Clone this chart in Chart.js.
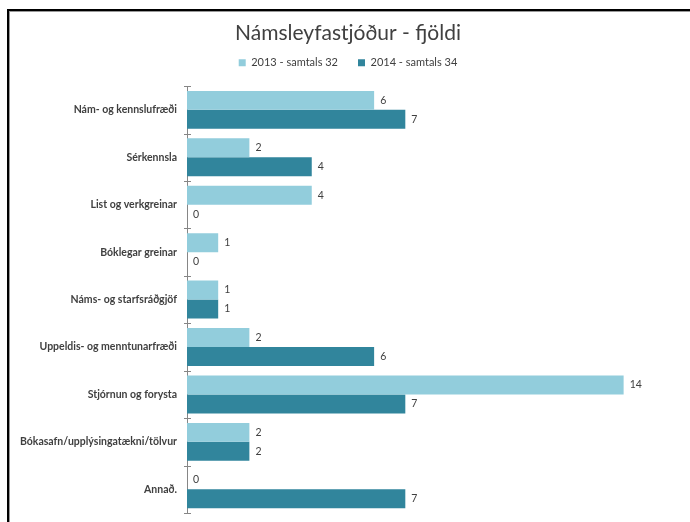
<!DOCTYPE html>
<html lang="is">
<head>
    <meta charset="UTF-8">
    <title>Námsleyfastjóður - fjöldi</title>
    <script src="https://cdn.jsdelivr.net/npm/chart.js"></script>
    <style>
        body {
            margin: 0;
            background: #fff;
            overflow: hidden;
        }
        .wrap {
            position: relative;
            width: 690px;
            height: 522px;
        }
        .frame {
            position: absolute;
            left: 7px;
            top: 9px;
            width: 700px;
            height: 600px;
            border-top: 2px solid #000;
            border-left: 2px solid #000;
            box-shadow: inset 1px 1px 0 #999;
            pointer-events: none;
        }
    </style>
</head>
<body>
    <div class="wrap">
        <canvas id="chart"></canvas>
        <div class="frame"></div>
    </div>

    <script>
        const categories = [
            'Nám- og kennslufræði',
            'Sérkennsla',
            'List og verkgreinar',
            'Bóklegar greinar',
            'Náms- og starfsráðgjöf',
            'Uppeldis- og menntunarfræði',
            'Stjórnun og forysta',
            'Bókasafn/upplýsingatækni/tölvur',
            'Annað.'
        ];
        const values2013 = [6, 2, 4, 1, 1, 2, 14, 2, 0];
        const values2014 = [7, 4, 0, 0, 1, 6, 7, 2, 7];
        const seriesNames = ['2013 - samtals 32', '2014 - samtals 34'];

        const FONT = 'Lato, "Open Sans", sans-serif';
        const TEXT = '#404040';

        // numbers at the end of each bar
        const valueLabels = {
            id: 'valueLabels',
            afterDatasetsDraw(chart) {
                const ctx = chart.ctx;
                ctx.save();
                ctx.font = '10.5px ' + FONT;
                ctx.fillStyle = TEXT;
                ctx.textAlign = 'left';
                ctx.textBaseline = 'middle';
                chart.data.datasets.forEach((ds, i) => {
                    chart.getDatasetMeta(i).data.forEach((bar, j) => {
                        ctx.fillText(String(ds.data[j]), bar.x + 6, bar.y);
                    });
                });
                ctx.restore();
            }
        };

        // small cross ticks on the category axis between groups
        const axisTicks = {
            id: 'axisTicks',
            afterDraw(chart) {
                const y = chart.scales.y;
                const ctx = chart.ctx;
                const x = y.right;
                ctx.save();
                ctx.strokeStyle = '#868686';
                ctx.lineWidth = 1;
                for (let i = 0; i <= categories.length; i++) {
                    const py = Math.round(y.getPixelForValue(i - 0.5)) + 0.5;
                    ctx.beginPath();
                    ctx.moveTo(x - 3, py);
                    ctx.lineTo(x + 4, py);
                    ctx.stroke();
                }
                ctx.restore();
            }
        };

        new Chart(document.getElementById('chart'), {
            type: 'bar',
            data: {
                labels: categories,
                datasets: [
                    {
                        label: seriesNames[0],
                        data: values2013,
                        backgroundColor: '#92CDDC'
                    },
                    {
                        label: seriesNames[1],
                        data: values2014,
                        backgroundColor: '#31859C'
                    }
                ]
            },
            options: {
                indexAxis: 'y',
                responsive: true,
                maintainAspectRatio: false,
                animation: false,
                categoryPercentage: 0.8,
                barPercentage: 1.0,
                layout: {
                    padding: { left: 10, right: 4, top: 21, bottom: 9 }
                },
                scales: {
                    x: {
                        // value axis is hidden; kept at the top only as a spacer
                        position: 'top',
                        min: 0,
                        max: 16,
                        afterFit(scale) { scale.height = 8; },
                        grid: { display: false },
                        border: { display: false },
                        ticks: { display: false }
                    },
                    y: {
                        afterFit(scale) { scale.width = 177; },
                        // tick marks themselves come from axisTicks; tickLength only offsets the labels
                        grid: { display: false, drawTicks: true, tickLength: 10 },
                        border: { display: true, color: '#868686', width: 1 },
                        ticks: {
                            padding: 0,
                            color: TEXT,
                            font: { family: FONT, size: 10.5, weight: 'bold' }
                        }
                    }
                },
                plugins: {
                    title: {
                        display: true,
                        text: 'Námsleyfastjóður - fjöldi',
                        color: TEXT,
                        font: { family: FONT, size: 21, weight: 'normal', lineHeight: 1.15 },
                        padding: { top: 0, bottom: -8 }
                    },
                    legend: {
                        display: true,
                        labels: {
                            boxWidth: 7,
                            boxHeight: 7,
                            padding: 20,
                            color: TEXT,
                            font: { family: FONT, size: 11 }
                        }
                    },
                    tooltip: { enabled: false }
                }
            },
            plugins: [valueLabels, axisTicks]
        });
    </script>
</body>
</html>
